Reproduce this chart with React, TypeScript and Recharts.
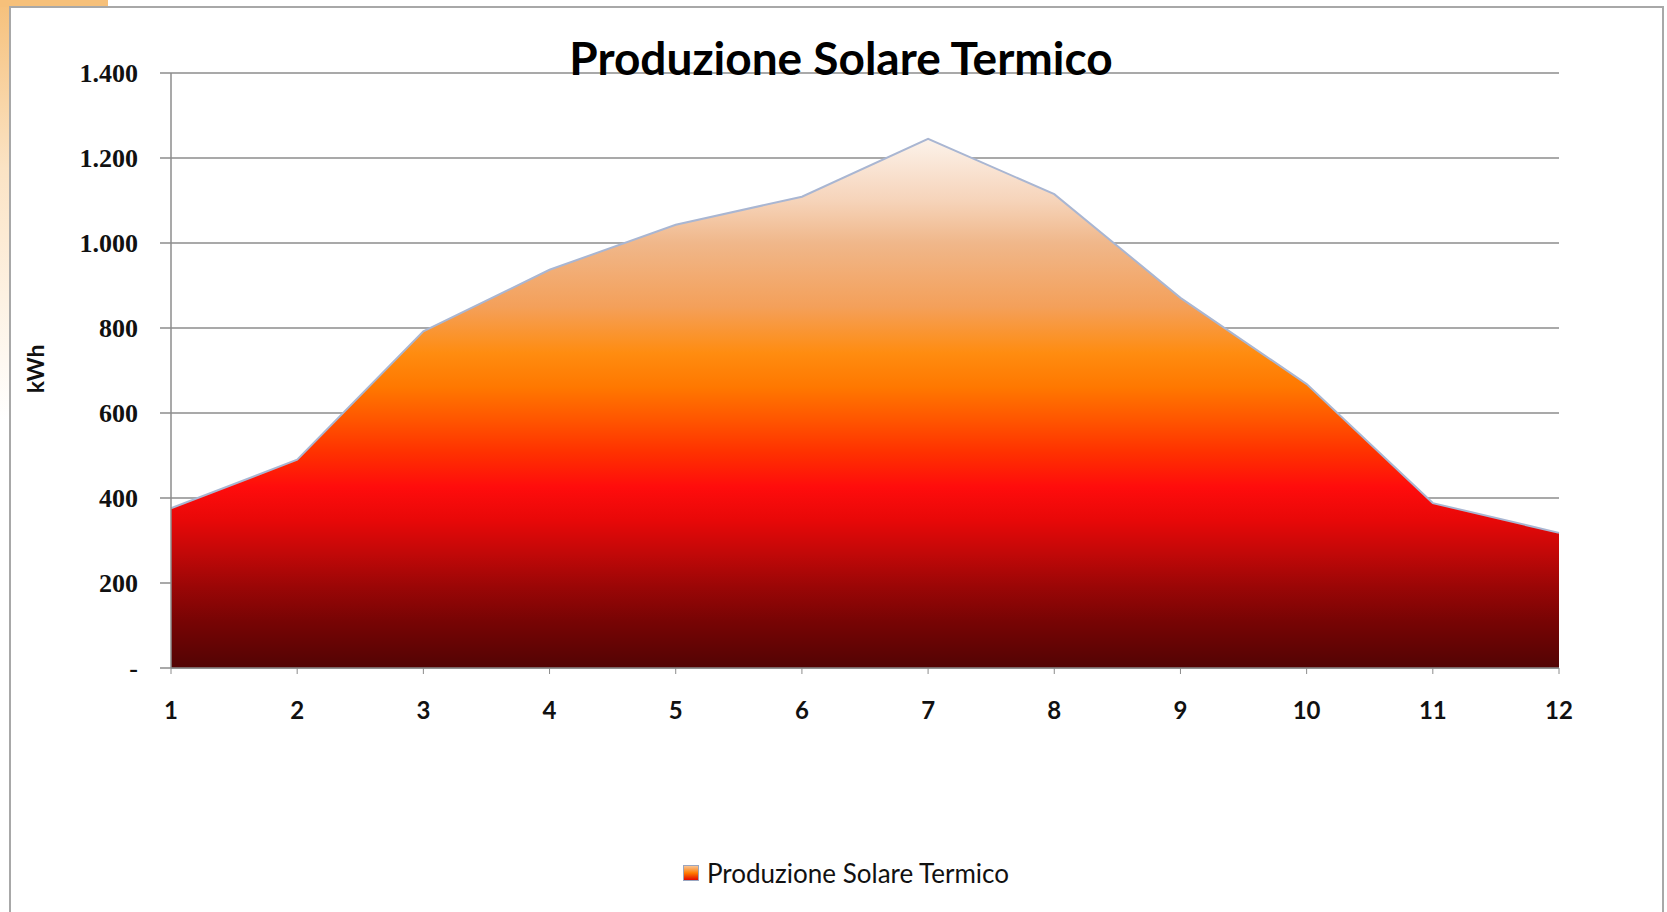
import React from 'react';
import { Area, AreaChart, CartesianGrid, XAxis, YAxis } from 'recharts';

const months = ['1', '2', '3', '4', '5', '6', '7', '8', '9', '10', '11', '12'];
const production = [376, 490, 792, 937, 1043, 1109, 1245, 1115, 871, 668, 388, 318];
const yTicks = [0, 200, 400, 600, 800, 1000, 1200, 1400];
const seriesName = 'Produzione Solare Termico';
const chartTitle = 'Produzione Solare Termico';
const yAxisTitle = 'kWh';

const data = months.map((month, i) => ({ month, value: production[i] }));

// excel style: 0 shown as a dash, dot as thousands separator
const formatKwh = (v: number) => (v === 0 ? '-' : String(v).replace(/\B(?=(\d{3})+(?!\d))/g, '.'));

const fillStops: [number, string][] = [
  [0, '#fcf2ea'],
  [0.116, '#f6d4ba'],
  [0.197, '#f0b78a'],
  [0.317, '#f4a05a'],
  [0.405, '#ff8c10'],
  [0.469, '#ff7800'],
  [0.532, '#ff5500'],
  [0.594, '#ff3000'],
  [0.658, '#ff0c0c'],
  [0.72, '#e80808'],
  [0.783, '#c20808'],
  [0.847, '#9a0606'],
  [0.911, '#780404'],
  [1, '#520404'],
];

function LegendBox() {
  return (
    <div
      style={{
        position: 'absolute',
        left: 683,
        top: 857,
        display: 'flex',
        alignItems: 'center',
        fontFamily: 'Lato',
        fontSize: 26,
        color: '#111',
        whiteSpace: 'nowrap',
      }}
    >
      <svg width={16} height={16} style={{ display: 'block' }}>
        <defs>
          <linearGradient id="legendFill" x1="0" y1="0" x2="0" y2="1">
            <stop offset="0" stopColor="#f7c9a0" />
            <stop offset="0.5" stopColor="#ff7a00" />
            <stop offset="1" stopColor="#e00000" />
          </linearGradient>
        </defs>
        <rect x={0.5} y={0.5} width={15} height={15} fill="url(#legendFill)" stroke="#9aa6c0" />
      </svg>
      <span style={{ marginLeft: 8 }}>{seriesName}</span>
    </div>
  );
}

export default function App() {
  return (
    <div
      style={{
        position: 'absolute',
        left: 0,
        top: 0,
        width: 1667,
        height: 912,
        overflow: 'hidden',
        background: '#fff',
      }}
    >
      {/* slide decoration behind the pasted chart */}
      <div
        style={{
          position: 'absolute',
          left: 0,
          top: 0,
          width: 9,
          height: 420,
          background: 'linear-gradient(#f6c07a, #fbe3c4 40%, #ffffff)',
        }}
      />
      <div style={{ position: 'absolute', left: 0, top: 0, width: 108, height: 7, background: '#f6c07a' }} />
      <div
        style={{
          position: 'absolute',
          left: 9,
          top: 6,
          width: 1655,
          height: 920,
          border: '2px solid #a8a8a8',
          boxSizing: 'border-box',
          background: '#fff',
        }}
      />
      <div style={{ position: 'absolute', left: 0, top: 0 }}>
        <AreaChart width={1667} height={912} data={data} margin={{ top: 73, right: 108, bottom: 184, left: 0 }}>
          <defs>
            <linearGradient id="solarFill" x1="0" y1="0" x2="0" y2="1">
              {fillStops.map(([o, c]) => (
                <stop key={o} offset={o} stopColor={c} />
              ))}
            </linearGradient>
          </defs>
          <CartesianGrid vertical={false} stroke="#8c8c8c" strokeWidth={1.5} />
          <XAxis
            dataKey="month"
            height={60}
            axisLine={{ stroke: '#8c8c8c', strokeWidth: 1.5 }}
            tickLine={{ stroke: '#8c8c8c' }}
            tickSize={6}
            tickMargin={28}
            interval={0}
            tick={{ fill: '#111', fontSize: 24, fontFamily: 'Lato', fontWeight: 'bold' }}
          />
          <YAxis
            width={171}
            domain={[0, 1400]}
            ticks={yTicks}
            interval={0}
            tickFormatter={formatKwh}
            axisLine={{ stroke: '#8c8c8c', strokeWidth: 1.5 }}
            tickLine={{ stroke: '#8c8c8c', strokeWidth: 1.5 }}
            tickSize={11}
            tickMargin={22}
            tick={{ fill: '#111', fontSize: 26, fontFamily: 'Liberation Serif', fontWeight: 'bold' }}
          />
          <Area
            type="linear"
            dataKey="value"
            name={seriesName}
            stroke="#a9b6d2"
            strokeWidth={2}
            fill="url(#solarFill)"
            fillOpacity={1}
            isAnimationActive={false}
          />
        </AreaChart>
      </div>
      <div
        style={{
          position: 'absolute',
          left: 841,
          top: 35,
          transform: 'translateX(-50%)',
          whiteSpace: 'nowrap',
          fontFamily: 'Lato',
          fontWeight: 'bold',
          fontSize: 46,
          lineHeight: 1,
          color: '#000',
        }}
      >
        {chartTitle}
      </div>
      <div
        style={{
          position: 'absolute',
          left: 35,
          top: 369,
          transform: 'translate(-50%, -50%) rotate(-90deg)',
          fontFamily: 'Lato',
          fontWeight: 'bold',
          fontSize: 23,
          color: '#111',
        }}
      >
        {yAxisTitle}
      </div>
      <LegendBox />
    </div>
  );
}
